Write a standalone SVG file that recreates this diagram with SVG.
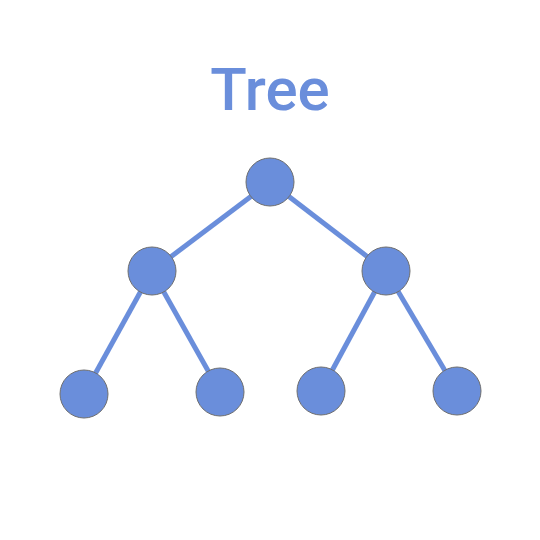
<svg xmlns="http://www.w3.org/2000/svg" width="540" height="540" viewBox="0 0 540 540">
  <style>
    .edge { stroke: #6a8edb; stroke-width: 5; fill: none; }
    .node { fill: #6a8edb; stroke: #6f6f6f; stroke-width: 1; }
    .title { font-family: Roboto, "Liberation Sans", sans-serif; font-weight: 500; font-size: 60px; fill: #6a8edb; }
  </style>
  <rect width="540" height="540" fill="#ffffff"/>
  <text class="title" x="270" y="110" text-anchor="middle">Tree</text>
  <g id="connectors">
    <line class="edge" x1="270" y1="182" x2="152" y2="271"/>
    <line class="edge" x1="270" y1="182" x2="386" y2="271"/>
    <line class="edge" x1="152" y1="271" x2="84" y2="394"/>
    <line class="edge" x1="152" y1="271" x2="220" y2="392"/>
    <line class="edge" x1="386" y1="271" x2="321" y2="391"/>
    <line class="edge" x1="386" y1="271" x2="457" y2="391"/>
  </g>
  <g id="root"><circle class="node" cx="270" cy="182" r="24"/></g>
  <g id="left"><circle class="node" cx="152" cy="271" r="24"/></g>
  <g id="right"><circle class="node" cx="386" cy="271" r="24"/></g>
  <g id="leaf-1"><circle class="node" cx="84" cy="394" r="24"/></g>
  <g id="leaf-2"><circle class="node" cx="220" cy="392" r="24"/></g>
  <g id="leaf-3"><circle class="node" cx="321" cy="391" r="24"/></g>
  <g id="leaf-4"><circle class="node" cx="457" cy="391" r="24"/></g>
</svg>
